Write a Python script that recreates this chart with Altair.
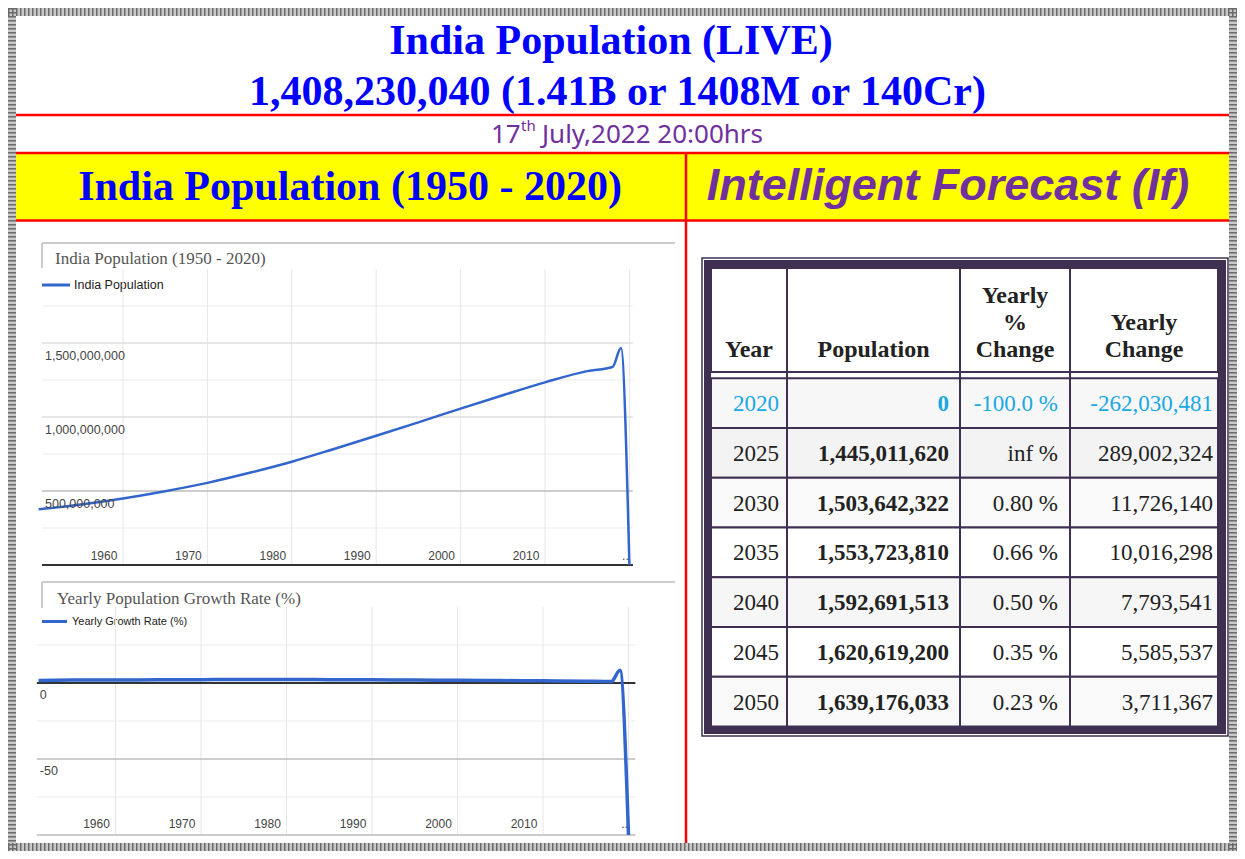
import altair as alt
import pandas as pd

# ---------------- data ----------------
title_lines = ["India Population (LIVE)", "1,408,230,040 (1.41B or 1408M or 140Cr)"]
date_day, date_sup, date_rest = "17", "th", "July,2022 20:00hrs"
left_header = "India Population (1950 - 2020)"
right_header = "Intelligent Forecast (If)"

pop_title = "India Population (1950 - 2020)"
pop_legend = "India Population"
pop_years = [1950, 1955, 1960, 1965, 1970, 1975, 1980, 1985, 1990, 1995,
             2000, 2005, 2010, 2015, 2018, 2019, 2020]
pop_values = [376e6, 409e6, 450e6, 499e6, 555e6, 623e6, 698e6, 784e6, 873e6, 964e6,
              1057e6, 1147e6, 1234e6, 1310e6, 1338e6, 1466e6, 0]
pop_major = [500e6, 1000e6, 1500e6]
pop_major_labels = ["500,000,000", "1,000,000,000", "1,500,000,000"]
pop_minor = [250e6, 750e6, 1250e6, 1750e6]

rate_title = "Yearly Population Growth Rate (%)"
rate_legend = "Yearly Growth Rate (%)"
rate_years = [1951, 1955, 1960, 1965, 1970, 1975, 1980, 1985, 1990, 1995,
              2000, 2005, 2010, 2015, 2018, 2019, 2020]
rate_values = [1.7, 1.9, 2.0, 2.1, 2.2, 2.3, 2.3, 2.2, 2.1, 1.9,
               1.8, 1.6, 1.4, 1.2, 1.0, 8.4, -100.0]
rate_major = [0, -50]
rate_major_labels = ["0", "-50"]
rate_minor = [25, -25, -75]

decade_ticks = [1960, 1970, 1980, 1990, 2000, 2010]
decade_labels = ["1960", "1970", "1980", "1990", "2000", "2010"]
last_tick, last_label = 2020, ".."

tbl_headers = [["Year"], ["Population"], ["Yearly", "%", "Change"], ["Yearly", "Change"]]
tbl_years = [2020, 2025, 2030, 2035, 2040, 2045, 2050]
tbl_pop = [0, 1445011620, 1503642322, 1553723810, 1592691513, 1620619200, 1639176033]
tbl_pct = ["-100.0 %", "inf %", "0.80 %", "0.66 %", "0.50 %", "0.35 %", "0.23 %"]
tbl_chg = [-262030481, 289002324, 11726140, 10016298, 7793541, 5585537, 3711367]

# ---------------- layout / style ----------------
OFF = 8
W, H = 1229, 843
BOT = OFF + H
SERIF = "Liberation Serif"
SANS = "Liberation Sans"
BLUE = "#0000ff"
PURPLE = "#7030a0"
RED = "#ff0000"
DARK = "#3f3052"
LINE = "#3366cc"


def sh(rows):
    df = pd.DataFrame(rows)
    for c in ("x", "x2", "y", "y2"):
        if c in df.columns:
            df[c] = df[c] - OFF
    return df


def PX(f):
    return alt.X(f, type="quantitative", scale=None, axis=None)


def PY(f):
    return alt.Y(f, type="quantitative", scale=None, axis=None)


def rules(rows, **kw):
    return alt.Chart(sh(rows)).mark_rule(**kw).encode(
        x=PX("x"), x2=alt.X2("x2"), y=PY("y"), y2=alt.Y2("y2"))


def rects(rows, **kw):
    return alt.Chart(sh(rows)).mark_rect(**kw).encode(
        x=PX("x"), x2=alt.X2("x2"), y=PY("y"), y2=alt.Y2("y2"))


def texts(rows, **kw):
    kw.setdefault("baseline", "alphabetic")
    return alt.Chart(sh(rows)).mark_text(**kw).encode(
        x=PX("x"), y=PY("y"), text=alt.Text("text:N"))


layers = []

# hatched frame
hatch = [dict(x=8, x2=1237, y=12, y2=12), dict(x=8, x2=1237, y=BOT - 4, y2=BOT - 4),
         dict(x=12, x2=12, y=8, y2=BOT), dict(x=1233, x2=1233, y=8, y2=BOT)]
layers.append(rules(hatch, color="#c8c8c8", strokeWidth=8))
layers.append(rules(hatch, color="#6a6a6a", strokeWidth=8, strokeDash=[1.5, 2.5]))

# yellow header band and red lines
layers.append(rects([dict(x=16, x2=1229, y=154, y2=220)], color="#ffff00"))
layers.append(rules([dict(x=16, x2=1229, y=115, y2=115), dict(x=16, x2=1229, y=153, y2=153),
                     dict(x=16, x2=1229, y=220.5, y2=220.5),
                     dict(x=686, x2=686, y=153, y2=BOT - 8)], color=RED, strokeWidth=2.5))

# titles
layers.append(texts([dict(x=611, y=54, text=title_lines[0]), dict(x=617.5, y=105, text=title_lines[1])],
                    align="center", font=SERIF, fontSize=42, fontWeight="bold", color=BLUE))
layers.append(texts([dict(x=491, y=143, text=date_day), dict(x=542, y=143, text=date_rest)],
                    align="left", font="Noto Sans", fontSize=26, color=PURPLE))
layers.append(texts([dict(x=521, y=131, text=date_sup)],
                    align="left", font="Noto Sans", fontSize=15, color=PURPLE))
layers.append(texts([dict(x=350, y=200, text=left_header)],
                    align="center", font=SERIF, fontSize=42, fontWeight="bold", color=BLUE))
layers.append(texts([dict(x=948, y=200, text=right_header)],
                    align="center", font="Liberation Sans", fontSize=45,
                    fontWeight="bold", fontStyle="italic", color=PURPLE))

# chart frames, titles, legends
layers.append(rules([dict(x=42, x2=675, y=243, y2=243), dict(x=42, x2=42, y=243, y2=268),
                     dict(x=42, x2=675, y=582, y2=582), dict(x=42, x2=42, y=582, y2=608)],
                    color="#cccccc", strokeWidth=2))
layers.append(texts([dict(x=55, y=264, text=pop_title), dict(x=57, y=604, text=rate_title)],
                    align="left", font=SERIF, fontSize=17, color="#555555"))
layers.append(rules([dict(x=42, x2=70, y=285, y2=285), dict(x=42, x2=67, y=621.5, y2=621.5)],
                    color=LINE, strokeWidth=3))
layers.append(texts([dict(x=74, y=289, text=pop_legend)], align="left", font=SANS, fontSize=12.5, color="#222222"))
layers.append(texts([dict(x=72, y=625, text=rate_legend)], align="left", font=SANS, fontSize=11, color="#222222"))


# ---------------- line panels ----------------
def line_panel(years, values, major, major_labels, minor, xr, yd, yr, xl, xrgt, ylo_grid,
               zero_color, zero_val, major_dark, bottom_color, lbl_dy, ylab_dy, line_w):
    xs = alt.Scale(domain=[1960, 2010], range=[xr[0] - OFF, xr[1] - OFF], nice=False, zero=False)
    ys = alt.Scale(domain=yd, range=[yr[0] - OFF, yr[1] - OFF], nice=False, zero=False)
    X = lambda f: alt.X(f, type="quantitative", scale=xs, axis=None)
    Y = lambda f: alt.Y(f, type="quantitative", scale=ys, axis=None)
    grid_years = decade_ticks + [last_tick]
    p = []
    p.append(alt.Chart(pd.DataFrame({"v": minor, "a": xl, "b": xrgt})).mark_rule(
        color="#ebebeb", strokeWidth=1).encode(y=Y("v"), x=X("a"), x2=alt.X2("b")))
    p.append(alt.Chart(pd.DataFrame({"yr": grid_years, "a": yd[1], "b": ylo_grid})).mark_rule(
        color="#e6e6e6", strokeWidth=1).encode(x=X("yr"), y=Y("a"), y2=alt.Y2("b")))
    p.append(alt.Chart(pd.DataFrame({"v": major, "a": xl, "b": xrgt,
                                     "c": ["#bcbcbc" if v == major_dark else "#dedede" for v in major]}))
             .mark_rule(strokeWidth=1.5).encode(y=Y("v"), x=X("a"), x2=alt.X2("b"),
                                                color=alt.Color("c:N", scale=None)))
    p.append(alt.Chart(pd.DataFrame({"v": [yd[0]], "a": xl, "b": xrgt})).mark_rule(
        color=bottom_color, strokeWidth=2).encode(y=Y("v"), x=X("a"), x2=alt.X2("b")))
    p.append(alt.Chart(pd.DataFrame({"v": [zero_val], "a": xl, "b": xrgt})).mark_rule(
        color=zero_color, strokeWidth=2).encode(y=Y("v"), x=X("a"), x2=alt.X2("b")))
    p.append(alt.Chart(pd.DataFrame({"year": years, "val": values})).mark_line(
        color=LINE, strokeWidth=line_w, interpolate="monotone").encode(x=X("year"), y=Y("val")))
    p.append(alt.Chart(pd.DataFrame({"v": major, "t": major_labels, "a": xl})).mark_text(
        align="left", baseline="alphabetic", dx=3, dy=ylab_dy, font=SANS, fontSize=12.5, color="#444444")
        .encode(x=X("a"), y=Y("v"), text="t:N"))
    p.append(alt.Chart(pd.DataFrame({"yr": decade_ticks, "t": decade_labels, "v": yd[0]})).mark_text(
        align="center", baseline="alphabetic", dx=-19, dy=lbl_dy, font=SANS, fontSize=12, color="#444444")
        .encode(x=X("yr"), y=Y("v"), text="t:N"))
    p.append(alt.Chart(pd.DataFrame({"yr": [last_tick], "t": [last_label], "v": yd[0]})).mark_text(
        align="center", baseline="alphabetic", dx=-4, dy=lbl_dy, font=SANS, fontSize=12, color="#444444")
        .encode(x=X("yr"), y=Y("v"), text="t:N"))
    return alt.layer(*p)


chart1 = line_panel(pop_years, pop_values, pop_major, pop_major_labels, pop_minor,
                    xr=(123, 545), yd=[0, 2e9], yr=(565, 269), xl=1950.4, xrgt=2020.4, ylo_grid=0,
                    zero_color="#333333", zero_val=0, major_dark=500e6, bottom_color="#333333",
                    lbl_dy=-5, ylab_dy=16.5, line_w=2.5)
chart2 = line_panel(rate_years, rate_values, rate_major, rate_major_labels, rate_minor,
                    xr=(115.5, 543), yd=[-100, 50], yr=(835, 607), xl=1950.8, xrgt=2020.8, ylo_grid=-100,
                    zero_color="#333333", zero_val=0, major_dark=-50, bottom_color="#cccccc",
                    lbl_dy=-7, ylab_dy=15.5, line_w=3.5)

# ---------------- table ----------------
col_edges = [711, 787, 960, 1070, 1218]
layers.append(rects([dict(x=702, x2=1228, y=258, y2=736)], filled=False, color=DARK, strokeWidth=1.5))
layers.append(rects([dict(x=704, x2=1226, y=260, y2=734)], color=DARK))
layers.append(rects([dict(x=711, x2=1218, y=268, y2=726)], color="white"))
layers.append(rules([dict(x=c, x2=c, y=268, y2=726) for c in col_edges[1:-1]], color=DARK, strokeWidth=2))
layers.append(rects([dict(x=col_edges[j], x2=col_edges[j + 1], y=268, y2=372) for j in range(4)],
                    fill="white", stroke=DARK, strokeWidth=2))
hdr_rows = []
for j, lines in enumerate(tbl_headers):
    cx = (col_edges[j] + col_edges[j + 1]) / 2
    n = len(lines)
    for k, t in enumerate(lines):
        hdr_rows.append(dict(x=cx, y=357 - (n - 1 - k) * 27, text=t))
layers.append(texts(hdr_rows, align="center", font=SERIF, fontSize=24, fontWeight="bold", color="#222222"))

row_fills = ["#f7f7f7", "#f3f3f3", "#f9f9f9", "#ffffff", "#f6f6f6", "#ffffff", "#f9f9f9"]
n_rows = len(tbl_years)
yst = alt.Scale(domain=[0, n_rows - 1], range=[403 - OFF, 701.5 - OFF], nice=False, zero=False)
cells = []
for i in range(n_rows):
    for j in range(4):
        cells.append(dict(x=col_edges[j] - OFF, x2=col_edges[j + 1] - OFF, r0=i - 0.5, r1=i + 0.5,
                          fill=row_fills[i]))
cell_chart = alt.Chart(pd.DataFrame(cells)).mark_rect(stroke=DARK, strokeWidth=2).encode(
    x=PX("x"), x2=alt.X2("x2"), y=alt.Y("r0:Q", scale=yst, axis=None), y2=alt.Y2("r1"),
    fill=alt.Fill("fill:N", scale=None))

body = pd.DataFrame({
    "row": list(range(n_rows)),
    "year": [str(v) for v in tbl_years],
    "pop": [f"{v:,}" for v in tbl_pop],
    "pct": tbl_pct,
    "chg": [f"{v:,}" for v in tbl_chg],
    "ink": ["#1aa7e6"] + ["#222222"] * (n_rows - 1),
})
text_right = [779, 949, 1058, 1213]
tlayers = [cell_chart]
for j, fld in enumerate(["year", "pop", "pct", "chg"]):
    b = body.copy()
    b["tx"] = text_right[j] - OFF
    tlayers.append(alt.Chart(b).mark_text(
        align="right", baseline="middle", dy=1, font=SERIF, fontSize=23,
        fontWeight="bold" if fld == "pop" else "normal").encode(
        x=PX("tx"), y=alt.Y("row:Q", scale=yst, axis=None), text=alt.Text(f"{fld}:N"),
        color=alt.Color("ink:N", scale=None)))
table = alt.layer(*tlayers)

chart = alt.layer(*layers, chart1, chart2, table).resolve_scale(
    x="independent", y="independent"
).properties(
    width=W, height=H, padding=0, background="white",
    autosize=alt.AutoSizeParams(type="none"),
).configure_view(stroke=None)

chart.save("out.html", embed_options={"renderer": "svg", "actions": False})
